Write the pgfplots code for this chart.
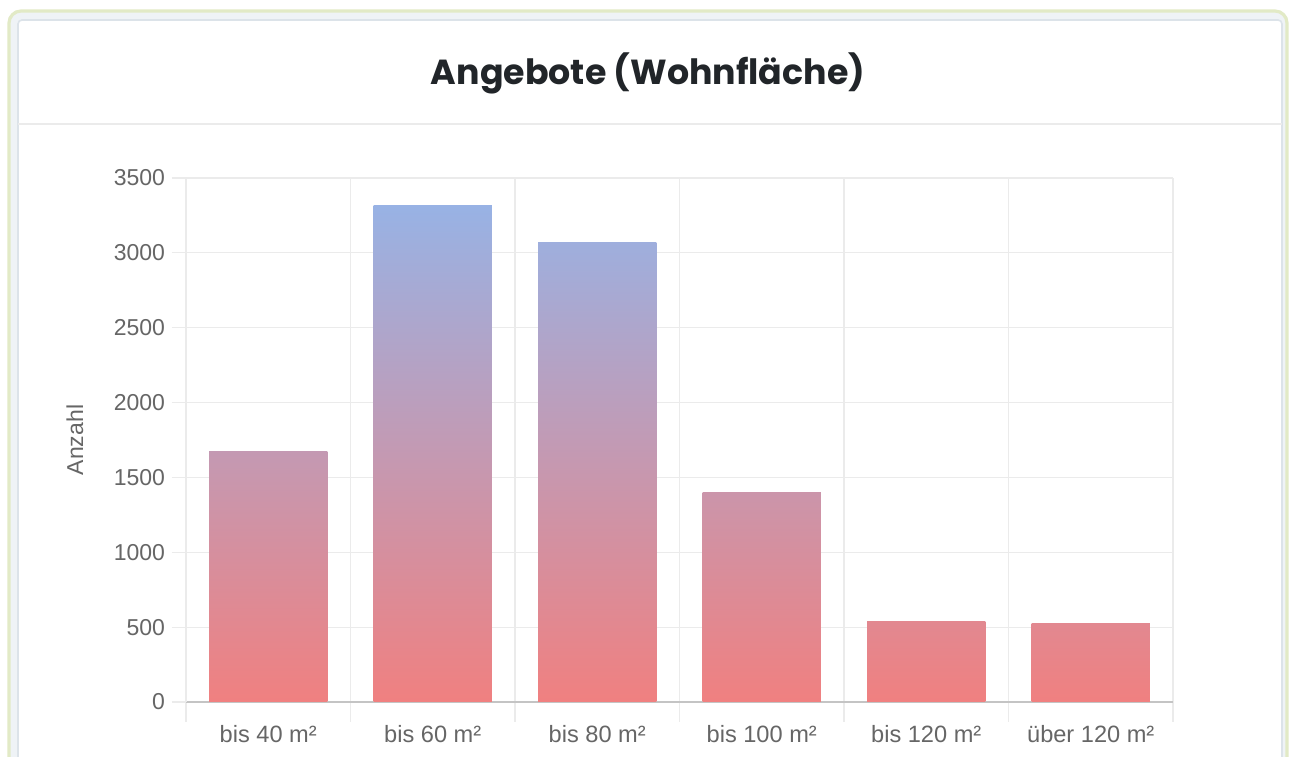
\documentclass[border=0pt]{standalone}
\usepackage{fontspec}
\setmainfont{Liberation Sans}
\newfontfamily\poppins{Poppins}
\usepackage{pgfplots}
\pgfplotsset{compat=1.18}

\definecolor{gradblue}{HTML}{93B5EA}
\definecolor{gradred}{HTML}{F08080}
\definecolor{gridgray}{HTML}{EBEBEB}
\definecolor{axisgray}{HTML}{C4C4C4}
\definecolor{ticktext}{HTML}{666666}
\definecolor{cardgreen}{HTML}{E2EAC6}
\definecolor{cardfill}{HTML}{EFF3F6}
\definecolor{cardedge}{HTML}{DCE3E9}
\definecolor{titletext}{HTML}{212529}

\begin{document}
\begin{tikzpicture}
\path[use as bounding box] (0,0) rectangle (646pt,378pt);
\clip (0,0) rectangle (646pt,378pt);
\fill[white] (0,0) rectangle (646pt,378pt);
% card frame
\draw[cardgreen, line width=1.6pt, fill=cardfill, rounded corners=6pt]
  (4.5pt,-10pt) rectangle (643.5pt,372.5pt);
\draw[cardedge, line width=0.8pt, fill=white, rounded corners=2pt]
  (9pt,-10pt) rectangle (641pt,368pt);
\draw[gridgray, line width=1pt] (9pt,316pt) -- (641pt,316pt);
\node[anchor=base, text=titletext, font=\poppins\bfseries\fontsize{17.4}{20}\selectfont]
  at (324pt,335.5pt) {Angebote (Wohnfläche)};

\begin{axis}[
  at={(93pt,27pt)}, anchor=south west,
  scale only axis, width=493.5pt, height=262pt,
  xmin=-0.5, xmax=5.5, ymin=0, ymax=3500,
  xtick={0,1,2,3,4,5},
  xticklabels={bis 40 m²,bis 60 m²,bis 80 m²,bis 100 m²,bis 120 m²,über 120 m²},
  minor xtick={-0.5,0.5,1.5,2.5,3.5,4.5,5.5},
  ytick={0,500,...,3500},
  xmajorgrids=false, xminorgrids=true, ymajorgrids=true,
  grid style={gridgray, line width=0.6pt},
  minor grid style={gridgray, line width=0.6pt},
  axis x line*=bottom, axis y line*=left,
  x axis line style={axisgray, line width=0.8pt, -},
  y axis line style={gridgray, line width=0.6pt, -},
  tick align=outside,
  major x tick style={draw=none},
  minor x tick style={gridgray, line width=0.6pt},
  minor tick length=10pt,
  major tick length=7pt,
  y tick style={gridgray, line width=0.6pt},
  yticklabel style={text=ticktext, font=\fontsize{11.5}{13}\selectfont},
  xticklabel style={text=ticktext, font=\fontsize{11.8}{13}\selectfont, yshift=-1pt},
  /pgf/number format/assume math mode=true,
  /pgf/number format/1000 sep={},
  ylabel={Anzahl},
  ylabel style={at={(axis description cs:-0.1125,0.5)}, anchor=center,
    text=ticktext, font=\fontsize{11.5}{13}\selectfont},
  ybar, bar width=0.72, bar shift=0pt,
  every axis plot/.append style={draw=none, bottom color=gradred},
]
\addplot[top color=gradblue!47.7!gradred] coordinates {(0,1670)};
\addplot[top color=gradblue!94.7!gradred] coordinates {(1,3313)};
\addplot[top color=gradblue!87.6!gradred] coordinates {(2,3066)};
\addplot[top color=gradblue!39.9!gradred] coordinates {(3,1396)};
\addplot[top color=gradblue!15.5!gradred] coordinates {(4,541)};
\addplot[top color=gradblue!14.9!gradred] coordinates {(5,521)};
\end{axis}
\end{tikzpicture}
\end{document}
